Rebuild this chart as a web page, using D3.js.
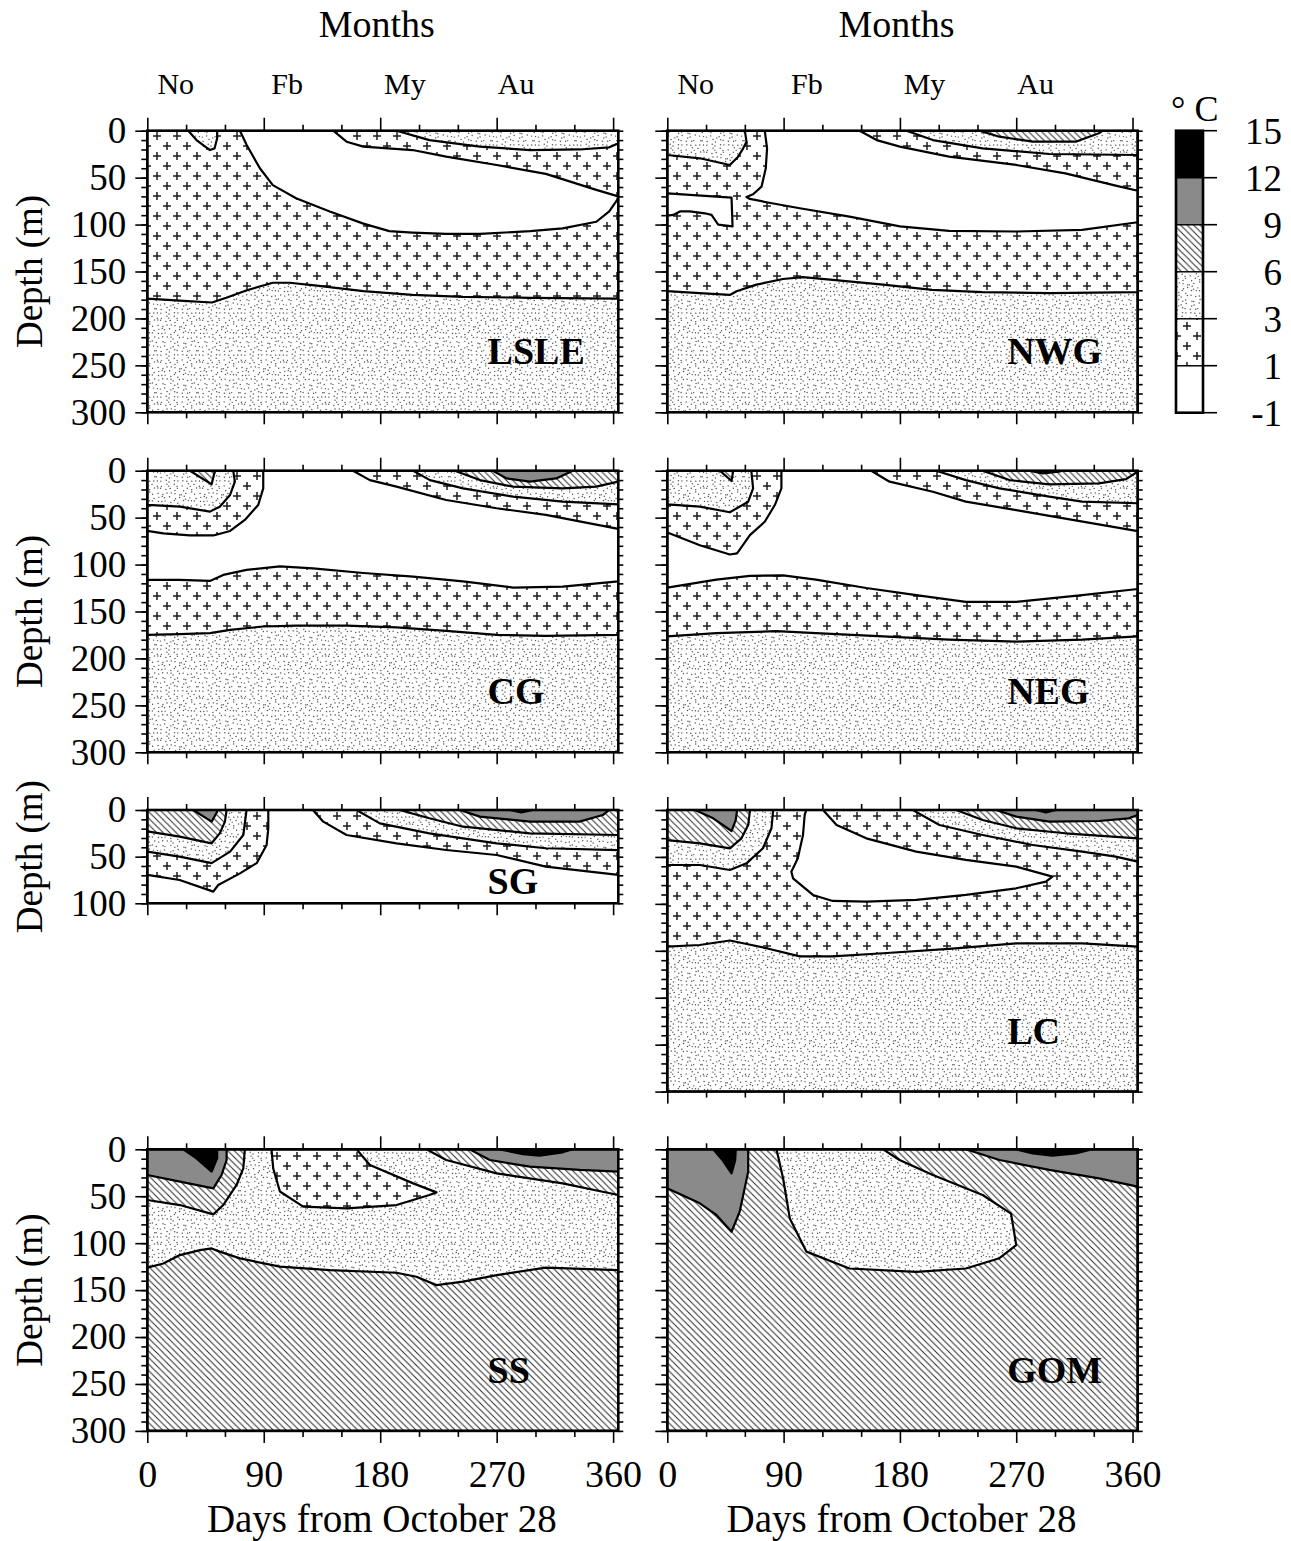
<!DOCTYPE html>
<html>
<head>
<meta charset="utf-8">
<script src="https://cdn.jsdelivr.net/npm/d3@7"></script>
<style>
  html, body { margin: 0; padding: 0; background: #fff; }
  svg text { font-family: "Liberation Serif", "Times New Roman", Times, serif; fill: #000; }
</style>
</head>
<body>
<svg id="chart" width="1291" height="1541"></svg>
<script>
// ---------------------------------------------------------------
// Seasonal temperature sections (depth vs. days from October 28)
// Temperature classes: 0 = -1..1, 1 = 1..3, 2 = 3..6, 3 = 6..9,
//                      4 = 9..12, 5 = 12..15 (deg C)
// Each region: [class, [[day, depth], ...]] painted in order.
// ---------------------------------------------------------------
const DAY_MAX = 364;
const tempBreaks = [-1, 1, 3, 6, 9, 12, 15];
const dayMajorTicks = [0, 90, 180, 270, 360];
const dayMinorTicks = [30, 60, 120, 150, 210, 240, 300, 330];
const monthNames = ["No", "Fb", "My", "Au"];
const monthDays = [22, 108, 199, 285];

const full300 = [[0, 0], [364, 0], [364, 300], [0, 300]];
const full100 = [[0, 0], [364, 0], [364, 100], [0, 100]];

const lsleRegions = [
  [2, full300],
  [1, [[0,0],[0,179],[25,181],[50,183],[61,178],[77,170],[97,162],[110,162],[131,165],[167,171],[205,175],[244,177],[296,178],[364,179],[364,0]]],
  [0, [[71.6,0],[76.7,15],[87,40],[97,58],[115,72],[141,86],[167,99],[187,107],[205,108.5],[231,110],[257,110],[296,107],[321,104],[347,97],[357,86],[363,74],[364,70],[347,63],[308,46],[270,36.5],[231,27.7],[205,20.6],[167,17],[154,11.7],[143.7,0]]],
  [2, [[192.6,0],[218,10],[257,17],[296,20.6],[334,20],[357,17.7],[364,13.5],[364,0]]],
  [2, [[31.7,0],[38,10],[48.4,20.6],[52,18.8],[54,8],[54,0]]]
];

const nwgRegions = [
  [2, full300],
  [1, [[0,0],[0,171],[25,173],[48.4,175],[53.6,171],[69,164],[89.6,158],[105,156],[128,159],[167,164],[205,169.5],[244,172],[296,173],[364,172],[364,0]]],
  [2, [[0,0],[60,0],[61.3,11.7],[58.7,18.8],[54.8,27.7],[48.4,36.5],[25.2,29.4],[0,25.9]]],
  [0, [[75.4,0],[77.2,18.8],[76.2,40],[72.9,59.6],[66.4,67.7],[61.3,70.6],[63.9,72.7],[76.7,76.2],[102.5,82.6],[141,91.5],[180,102],[218,106.7],[270,107.4],[321,105.7],[364,97.5],[364,64],[347,58.5],[308,45.4],[270,36.5],[218,27.7],[180,17],[162,10],[148.8,0]]],
  [0, [[0,66.7],[49.7,71.3],[50.5,102],[39.4,100],[34.2,89.7],[29,88],[17.5,86],[9.8,86],[4.6,89.7],[0,90.4]]],
  [2, [[185,0],[205.5,10],[244,18.8],[295.6,24.8],[364,25.9],[364,0]]],
  [3, [[241.5,0],[257,6.4],[282.7,11.7],[316,11.7],[334,2.8],[336.8,0]]]
];

const cgRegions = [
  [2, full300],
  [1, [[0,0],[0,175],[25,174],[48.4,173],[64,169.5],[89.6,166],[115,165],[154,165],[192.6,167],[231,170.6],[270,175],[308,176],[364,175],[364,0]]],
  [0, [[0,64.2],[12.4,66.7],[33,69],[51,69],[64,64.2],[75.4,52.5],[85.7,36.5],[89.6,18.8],[89.6,0],[159,0],[172,10],[192.6,17],[231,31.2],[270,40],[308,47],[364,62],[364,118],[321,123.4],[282.7,124.5],[244,118],[205.5,112.8],[167,109],[128,104],[102.5,102],[76.7,105.7],[58.7,111],[48.4,117.4],[25,116.3],[0,116.3]]],
  [2, [[0,0],[66.4,0],[67.7,11.7],[63.9,25.9],[56,38.3],[48.4,43.6],[25.2,38.3],[0,36.5]]],
  [3, [[33,0],[49.7,14.5],[52.3,0]]],
  [2, [[205.5,0],[218.4,10],[244,18.8],[282.7,27.7],[321,33],[364,35.8],[364,0]]],
  [3, [[237.6,0],[257,10],[282.7,17],[321,18.8],[347,17],[364,11.7],[364,0]]],
  [4, [[267,0],[277.6,8.2],[295.6,11.7],[316,8.2],[329,0]]]
];

const negRegions = [
  [2, full300],
  [1, [[0,0],[0,176.6],[38,173],[84.5,171],[115,173],[167,176.6],[218,180],[270,182],[321,180],[364,176.6],[364,0]]],
  [0, [[0,65.8],[25.2,79.4],[48.4,89.3],[54,88],[63.9,68.7],[75.4,54.4],[83.2,36.6],[88.3,18.8],[88.3,0],[157.8,0],[172,11.7],[205.5,22.4],[231,33],[270,42],[308,51],[364,64.4],[364,126],[321,132.6],[270,139.7],[231,139.7],[192.6,132.6],[154,125],[115,116],[89.6,111.6],[64,112],[38,116],[0,124.5]]],
  [2, [[0,0],[65,0],[66.4,18.8],[62.6,33],[48.4,44.3],[25.2,38.3],[0,35.8]]],
  [3, [[40.7,0],[49.7,11],[51,0]]],
  [2, [[208,0],[231,10],[257,18.8],[295.6,27.7],[321,33],[364,34.7],[364,0]]],
  [3, [[244,0],[264.7,10],[295.6,14.5],[334,13.5],[355,8.9],[364,1],[364,0]]],
  [4, [[280,0],[290.4,2.8],[303,1],[306,0]]]
];

const sgRegions = [
  [0, full100],
  [1, [[0,0],[0,69.6],[25,75],[51,87.5],[54.8,80.4],[71.6,67.9],[84.5,57],[92.2,37.5],[93.5,19.6],[93.5,0]]],
  [2, [[0,0],[0,44.6],[25,50],[49.7,57],[64,44.6],[74.2,26.8],[76.7,0]]],
  [3, [[0,0],[0,23],[25,28.6],[49.7,35.7],[56,25],[60,12.5],[61.3,0]]],
  [4, [[35.5,0],[49.7,12.5],[54,1.8],[54,0]]],
  [1, [[128,0],[136,12.5],[154,26.8],[192.6,35.7],[231,42.9],[270,48.2],[308,60.7],[364,69.6],[364,0]]],
  [2, [[161.7,0],[179.7,14.3],[218,25],[270,35.7],[308,41],[364,42.9],[364,0]]],
  [3, [[195,0],[218,8.9],[244,17.9],[295.6,25],[364,26.8],[364,0]]],
  [4, [[241.5,0],[257,7.1],[295.6,12.5],[334,12.5],[352,5.4],[357,0]]],
  [5, [[280,0],[289,2.5],[298,0]]]
];

const lcRegions = [
  [2, full300],
  [1, [[0,0],[0,145.5],[25,143.8],[48.4,139],[58.7,142],[76.7,147.3],[102.5,156],[128,156],[167,152.6],[218,148],[270,142],[321,142],[364,145.5],[364,0]]],
  [2, [[0,0],[81.9,0],[80.6,19.5],[74,40.8],[61.3,56.8],[48.4,63.9],[25.2,58.6],[0,58.6]]],
  [3, [[0,0],[0,32],[25.2,35.5],[48.4,40.8],[57.4,30.2],[62.6,16],[64,0]]],
  [4, [[21.4,0],[35.5,8.9],[49.7,22.4],[53,10.6],[54,0]]],
  [0, [[107.6,0],[120.5,0],[131,16],[154,30.2],[192.6,44.4],[231,53.2],[270,60.3],[298,71],[293,76.3],[270,83.4],[231,90.5],[192.6,95.8],[154,97.6],[128,96.9],[112.7,90.5],[97.3,72.8],[96,65.7],[101,51.5],[105,26.6],[106.3,5.3]]],
  [2, [[190,0],[210.6,16],[244,26.6],[282.7,37.3],[321,44.4],[347,49.7],[364,55],[364,0]]],
  [3, [[223.5,0],[244,10.6],[270,19.5],[308,24.8],[364,30.2],[364,0]]],
  [4, [[254.4,0],[270,7.1],[295.6,12.4],[334,11.7],[357,8.9],[364,5.3],[364,0]]],
  [5, [[285,0],[293,2.5],[300.7,0]]]
];

const ssRegions = [
  [3, full300],
  [2, [[0,0],[0,126],[12.4,121.6],[25.2,112.7],[40.7,107.4],[49.7,105.6],[56,109],[71.6,116.2],[102.5,125],[141,128.7],[192.6,131.5],[208,135.8],[223.5,144.7],[244,141],[270,134],[308,126],[364,128.7],[364,0]]],
  [3, [[0,0],[0,54],[25.2,59.4],[51,69.3],[58.7,59.4],[69,38],[74.2,20.3],[75.4,0]]],
  [4, [[0,0],[0,27.4],[25.2,34.5],[51,41.6],[57.4,27.4],[61.3,11.4],[61.3,0]]],
  [5, [[27.8,0],[38,9.6],[49.7,23.8],[54,9.6],[54,0]]],
  [1, [[96,0],[97.3,20.3],[102.5,45],[120.5,61],[154,63],[192.6,59.4],[218,48.7],[223.5,45.9],[205.5,36.3],[172,16.7],[161.7,0]]],
  [3, [[215.8,0],[231,11.4],[270,25.6],[321,36.3],[364,48.7],[364,0]]],
  [4, [[249,0],[264.7,11.4],[295.6,18.5],[334,22],[364,23.8],[364,0]]],
  [5, [[272.4,0],[290.4,5.3],[303,6.8],[321,3.2],[329,0]]]
];

const gomRegions = [
  [3, full300],
  [4, [[0,0],[62.6,0],[62.6,23.8],[56,66.5],[49.7,87.8],[38,70],[25.2,57.6],[0,41.6]]],
  [5, [[35.5,0],[43,12],[49.7,25.6],[52.5,12],[53,0]]],
  [2, [[84.5,0],[89.6,30.9],[94.8,73.6],[107.6,109],[141,127],[192.6,130.5],[231,127],[257,116],[270,102],[266,68.6],[244,48.7],[205.5,27.4],[179.7,11.4],[167,0]]],
  [4, [[231,0],[257,11.4],[295.6,22],[334,31],[364,39.8],[364,0]]],
  [5, [[270,0],[282.7,4.3],[298,6.8],[316,4.3],[329,0]]]
];

// ---------------------------------------------------------------
// Layout
// ---------------------------------------------------------------
const colX = [[147.3, 618.3], [667.3, 1137.7]];
const pxPerMetre = 281.6 / 300;
const SERIF = '"Liberation Serif", "Times New Roman", Times, serif';

const panels = [
  { name: "LSLE", regions: lsleRegions, col: 0, top: 130.7, maxDepth: 300, labelDepth: 249 },
  { name: "NWG",  regions: nwgRegions,  col: 1, top: 130.7, maxDepth: 300, labelDepth: 249 },
  { name: "CG",   regions: cgRegions,   col: 0, top: 470.7, maxDepth: 300, labelDepth: 249 },
  { name: "NEG",  regions: negRegions,  col: 1, top: 470.7, maxDepth: 300, labelDepth: 249 },
  { name: "SG",   regions: sgRegions,   col: 0, top: 810.0, maxDepth: 100, labelDepth: 90 },
  { name: "LC",   regions: lcRegions,   col: 1, top: 810.0, maxDepth: 300, labelDepth: 249 },
  { name: "SS",   regions: ssRegions,   col: 0, top: 1149.3, maxDepth: 300, labelDepth: 249, bottom: true },
  { name: "GOM",  regions: gomRegions,  col: 1, top: 1149.3, maxDepth: 300, labelDepth: 249, bottom: true }
];

const svg = d3.select("#chart");
const defs = svg.append("defs");

// ---------------------------------------------------------------
// Fill patterns
// ---------------------------------------------------------------
// 1..3 C : staggered plus signs
const plus = defs.append("pattern").attr("id", "plus")
  .attr("patternUnits", "userSpaceOnUse").attr("width", 20).attr("height", 20)
  .attr("x", 2).attr("y", 1);
plus.append("rect").attr("width", 20).attr("height", 20).attr("fill", "#fff");
plus.append("path")
  .attr("d", "M1,5H9M5,1V9M11,15H19M15,11V19")
  .attr("stroke", "#1a1a1a").attr("stroke-width", 1.5).attr("fill", "none");

// 3..6 C : fine stipple (deterministic jittered grid)
const DOT_STEP = 4.2, DOT_N = 10, DOT_TILE = DOT_STEP * DOT_N;
const dots = defs.append("pattern").attr("id", "dots")
  .attr("patternUnits", "userSpaceOnUse").attr("width", DOT_TILE).attr("height", DOT_TILE);
dots.append("rect").attr("width", DOT_TILE).attr("height", DOT_TILE).attr("fill", "#fff");
function jitter(n) { const s = Math.sin(n * 127.1 + 311.7) * 43758.5453; return s - Math.floor(s); }
const dotPts = [];
for (let gy = 0; gy < DOT_N; gy++) {
  for (let gx = 0; gx < DOT_N; gx++) {
    const k = gy * DOT_N + gx;
    dotPts.push([gx * DOT_STEP + 0.6 + jitter(k) * (DOT_STEP - 1.2),
                 gy * DOT_STEP + 0.6 + jitter(k + 500) * (DOT_STEP - 1.2)]);
  }
}
dots.selectAll("circle").data(dotPts).join("circle")
  .attr("cx", d => d[0]).attr("cy", d => d[1]).attr("r", 0.72).attr("fill", "#505050");

// 6..9 C : diagonal hatching
const HS = 6.5;
const hatch = defs.append("pattern").attr("id", "hatch")
  .attr("patternUnits", "userSpaceOnUse").attr("width", HS).attr("height", HS);
hatch.append("rect").attr("width", HS).attr("height", HS).attr("fill", "#fff");
hatch.append("path")
  .attr("d", `M-1,-1L${HS + 1},${HS + 1}M-1,${HS - 1}L1,${HS + 1}M${HS - 1},-1L${HS + 1},1`)
  .attr("stroke", "#222").attr("stroke-width", 0.95).attr("fill", "none");

const fills = ["#ffffff", "url(#plus)", "url(#dots)", "url(#hatch)", "#8a8a8a", "#000000"];

// ---------------------------------------------------------------
// Axis helpers
// ---------------------------------------------------------------
function styleAxis(g, fontSize) {
  g.attr("font-family", SERIF).attr("font-size", fontSize || 10);
  g.select(".domain").remove();
  g.selectAll(".tick line").attr("stroke", "#000").attr("stroke-width", 1.6);
  g.selectAll(".tick text").attr("fill", "#000");
}

// ---------------------------------------------------------------
// Panels
// ---------------------------------------------------------------
panels.forEach(p => {
  const [x0, x1] = colX[p.col];
  const h = p.maxDepth * pxPerMetre * (p.maxDepth === 100 ? 0.994 : 1);
  const x = d3.scaleLinear().domain([0, DAY_MAX]).range([x0, x1]);
  const y = d3.scaleLinear().domain([0, p.maxDepth]).range([p.top, p.top + h]);
  const g = svg.append("g").attr("class", "panel");

  const clipId = "clip-" + p.name;
  defs.append("clipPath").attr("id", clipId)
    .append("rect").attr("x", x0).attr("y", p.top).attr("width", x1 - x0).attr("height", h);

  const line = d3.line().x(d => x(d[0])).y(d => y(d[1]));
  g.append("g").attr("clip-path", `url(#${clipId})`)
    .selectAll("path").data(p.regions).join("path")
    .attr("d", d => line(d[1]) + "Z")
    .attr("fill", d => fills[d[0]])
    .attr("stroke", "#000").attr("stroke-width", 2.2).attr("stroke-linejoin", "round");

  // station name
  g.append("text").attr("x", x(263)).attr("y", y(p.labelDepth))
    .attr("font-size", 38).attr("font-weight", "bold").text(p.name);

  // top ticks
  g.append("g").attr("transform", `translate(0,${p.top})`)
    .call(d3.axisTop(x).tickValues(dayMinorTicks).tickSize(6).tickFormat(""))
    .call(styleAxis);
  g.append("g").attr("transform", `translate(0,${p.top})`)
    .call(d3.axisTop(x).tickValues(dayMajorTicks).tickSize(13).tickFormat(""))
    .call(styleAxis);
  // bottom ticks
  g.append("g").attr("transform", `translate(0,${p.top + h})`)
    .call(d3.axisBottom(x).tickValues(dayMinorTicks).tickSize(6).tickFormat(""))
    .call(styleAxis);
  g.append("g").attr("transform", `translate(0,${p.top + h})`)
    .call(d3.axisBottom(x).tickValues(dayMajorTicks).tickSize(12).tickPadding(17)
      .tickFormat(p.bottom ? d3.format("d") : ""))
    .call(gg => styleAxis(gg, 38));

  // left ticks
  const minorDepth = d3.range(0, p.maxDepth + 1, 10);
  const majorDepth = d3.range(0, p.maxDepth + 1, 50);
  g.append("g").attr("transform", `translate(${x0},0)`)
    .call(d3.axisLeft(y).tickValues(minorDepth).tickSize(6).tickFormat(""))
    .call(styleAxis);
  g.append("g").attr("transform", `translate(${x0},0)`)
    .call(d3.axisLeft(y).tickValues(majorDepth).tickSize(12).tickPadding(9)
      .tickFormat(p.col === 0 ? d3.format("d") : ""))
    .call(gg => styleAxis(gg, 37));
  // right ticks
  g.append("g").attr("transform", `translate(${x1},0)`)
    .call(d3.axisRight(y).tickValues(minorDepth).tickSize(5).tickFormat(""))
    .call(styleAxis);

  // frame
  g.append("rect").attr("x", x0).attr("y", p.top).attr("width", x1 - x0).attr("height", h)
    .attr("fill", "none").attr("stroke", "#000").attr("stroke-width", 2.6);

  // depth title on the left column
  if (p.col === 0) {
    svg.append("text")
      .attr("transform", `translate(42,${p.top + h / 2}) rotate(-90)`)
      .attr("text-anchor", "middle").attr("font-size", 37).text("Depth (m)");
  }
  // day title under the last row
  if (p.bottom) {
    svg.append("text").attr("x", (x0 + x1) / 2 - 1).attr("y", 1532)
      .attr("text-anchor", "middle").attr("font-size", 39).text("Days from October 28");
  }
  // months along the top row
  if (p.top < 200) {
    svg.append("text").attr("x", (x0 + x1) / 2 - 6).attr("y", 37)
      .attr("text-anchor", "middle").attr("font-size", 38).text("Months");
    svg.append("g").selectAll("text").data(monthNames).join("text")
      .attr("x", (d, k) => x(monthDays[k])).attr("y", 94)
      .attr("text-anchor", "middle").attr("font-size", 30).text(d => d);
  }
});

// ---------------------------------------------------------------
// Colour key
// ---------------------------------------------------------------
const key = svg.append("g");
const keyY = d3.scaleLinear().domain([0, tempBreaks.length - 1]).range([412.7, 130.7]);
const keyX0 = 1176, keyX1 = 1203;
key.selectAll("rect.band").data(d3.range(tempBreaks.length - 1)).join("rect")
  .attr("class", "band")
  .attr("x", keyX0).attr("width", keyX1 - keyX0)
  .attr("y", k => keyY(k + 1)).attr("height", k => keyY(k) - keyY(k + 1))
  .attr("fill", k => fills[k]).attr("stroke", "#000").attr("stroke-width", 1.2);
key.append("rect").attr("x", keyX0).attr("y", keyY(tempBreaks.length - 1))
  .attr("width", keyX1 - keyX0).attr("height", keyY(0) - keyY(tempBreaks.length - 1))
  .attr("fill", "none").attr("stroke", "#000").attr("stroke-width", 2.6);
key.selectAll("line").data(tempBreaks).join("line")
  .attr("x1", keyX1).attr("x2", keyX1 + 14)
  .attr("y1", (d, k) => keyY(k)).attr("y2", (d, k) => keyY(k))
  .attr("stroke", "#000").attr("stroke-width", 1.6);
key.selectAll("text.lab").data(tempBreaks).join("text")
  .attr("class", "lab")
  .attr("x", 1282).attr("y", (d, k) => keyY(k)).attr("dy", "0.35em")
  .attr("text-anchor", "end").attr("font-size", 37).text(d => d);
key.append("text").attr("x", 1171).attr("y", 121).attr("font-size", 36).text("° C");
</script>
</body>
</html>
